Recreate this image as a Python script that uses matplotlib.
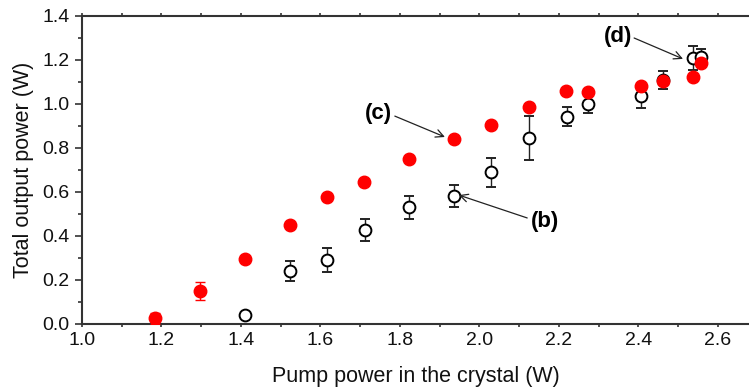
import matplotlib
matplotlib.use('Agg')
import matplotlib.pyplot as plt
from matplotlib.ticker import MultipleLocator

plt.rcParams['font.family'] = ['Liberation Sans', 'DejaVu Sans']

# red filled points
red_x = [1.184, 1.297, 1.410, 1.523, 1.617, 1.709, 1.823, 1.936, 2.030, 2.124, 2.218, 2.274, 2.406, 2.462, 2.536, 2.556]
red_y = [0.027, 0.150, 0.295, 0.451, 0.577, 0.645, 0.750, 0.840, 0.905, 0.986, 1.060, 1.056, 1.083, 1.106, 1.124, 1.185]
red_err = [0.025, 0.040, 0.0, 0.0, 0.0, 0.0, 0.0, 0.0, 0.0, 0.0, 0.0, 0.0, 0.0, 0.0, 0.0, 0.0]

# open circles
open_x = [1.410, 1.523, 1.617, 1.712, 1.823, 1.937, 2.030, 2.124, 2.219, 2.274, 2.406, 2.462, 2.536, 2.557]
open_y = [0.039, 0.241, 0.291, 0.427, 0.530, 0.583, 0.690, 0.847, 0.942, 1.000, 1.035, 1.109, 1.208, 1.215]
open_err = [0.0, 0.045, 0.053, 0.049, 0.053, 0.050, 0.065, 0.100, 0.043, 0.042, 0.054, 0.040, 0.055, 0.035]

fig = plt.figure(figsize=(7.49, 3.87), dpi=100)
ax = fig.add_axes([82 / 749, 1 - 324 / 387, 1 - 82 / 749, 308 / 387])

ax.errorbar(open_x, open_y, yerr=open_err, fmt='o', mfc='white', mec='black', mew=1.4,
            ms=8.5, ecolor='#222222', elinewidth=1.0, capsize=3.5, capthick=1.0, zorder=2)
ax.errorbar(red_x, red_y, yerr=red_err, fmt='o', mfc='red', mec='red',
            ms=9, ecolor='red', elinewidth=1.0, capsize=3.5, capthick=1.0, zorder=3)

ax.set_xlim(1.0, 2.678)
ax.set_ylim(0.0, 1.4)
ax.xaxis.set_major_locator(MultipleLocator(0.2))
ax.xaxis.set_minor_locator(MultipleLocator(0.1))
ax.yaxis.set_major_locator(MultipleLocator(0.2))
ax.yaxis.set_minor_locator(MultipleLocator(0.1))
ax.tick_params(which='both', direction='out', colors='#333333', labelcolor='#111111', labelsize=14, width=1.2)
ax.tick_params(which='major', length=5, pad=4)
ax.tick_params(which='minor', length=3)
ax.tick_params(axis='x', top=True, which='both', length=2)
ax.xaxis.set_major_formatter(matplotlib.ticker.FormatStrFormatter('%.1f'))
ax.yaxis.set_major_formatter(matplotlib.ticker.FormatStrFormatter('%.1f'))

for s in ['left', 'bottom', 'top']:
    ax.spines[s].set_linewidth(1.5)
    ax.spines[s].set_color('#333333')
ax.spines['right'].set_visible(False)

ax.set_xlabel('Pump power in the crystal (W)', fontsize=15.5, labelpad=12, color='#111111')
ax.set_ylabel('Total output power (W)', fontsize=15.5, labelpad=6, color='#111111')

arrow = dict(arrowstyle='->', color='#222222', lw=0.9, shrinkA=0, shrinkB=0, mutation_scale=14)
ax.annotate('', xy=(1.913, 0.850), xytext=(1.787, 0.945), arrowprops=arrow)
ax.text(1.745, 0.959, '(c)', fontsize=16, fontweight='bold', ha='center', va='center')
ax.annotate('', xy=(1.948, 0.586), xytext=(2.120, 0.482), arrowprops=arrow)
ax.text(2.165, 0.468, '(b)', fontsize=16, fontweight='bold', ha='center', va='center')
ax.annotate('', xy=(2.512, 1.205), xytext=(2.389, 1.300), arrowprops=arrow)
ax.text(2.348, 1.305, '(d)', fontsize=16, fontweight='bold', ha='center', va='center')

fig.savefig('out.png', dpi=100)
